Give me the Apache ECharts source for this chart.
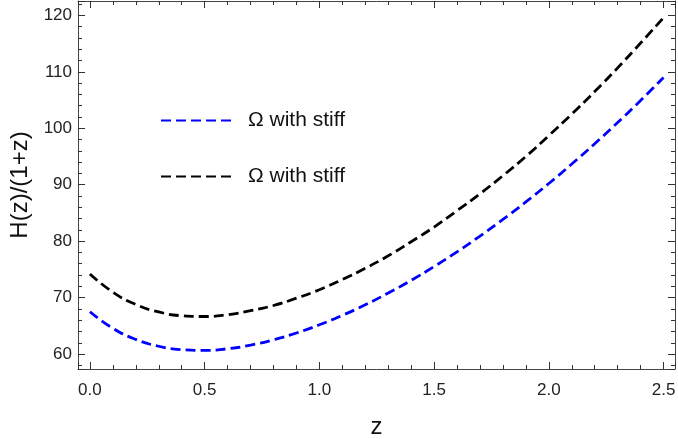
<!DOCTYPE html>
<html>
<head>
<meta charset="utf-8">
<script src="https://cdn.jsdelivr.net/npm/echarts@6/dist/echarts.min.js"></script>
<style>
  html, body { margin: 0; padding: 0; background: #fff; }
  #main { width: 678px; height: 439px; }
</style>
</head>
<body>
<div id="main"></div>
<script>
const chartDom = document.getElementById("main");
const myChart = echarts.init(chartDom);

// values
const zValues = [0.0, 0.1, 0.2, 0.3, 0.4, 0.5, 0.6, 0.7, 0.8, 0.9, 1.0, 1.1, 1.2,
  1.3, 1.4, 1.5, 1.6, 1.7, 1.8, 1.9, 2.0, 2.1, 2.2, 2.3, 2.4, 2.5];
const blueValues = [67.5, 64.57, 62.59, 61.38, 60.77, 60.65, 60.94, 61.58, 62.52,
  63.73, 65.18, 66.85, 68.73, 70.8, 73.06, 75.5, 78.11, 80.89, 83.84, 86.95,
  90.22, 93.66, 97.26, 101.01, 104.92, 108.99];
const blackValues = [74.2, 70.96, 68.79, 67.46, 66.79, 66.65, 66.97, 67.68, 68.6,
  69.9, 71.4, 73.2, 75.2, 77.4, 79.9, 82.5, 85.4, 88.4, 91.6, 95.0, 98.7,
  102.5, 106.5, 110.7, 115.1, 119.6];
const legendLabel = "Ω with stiff";

const font = "Liberation Sans, Arial, sans-serif";

function pairs(ys) {
  return zValues.map((z, i) => [z, ys[i]]);
}

const frameAxis = {
  show: true,
  axisLine: { show: true, onZero: false, lineStyle: { color: "#444", width: 1 } },
  axisTick: { show: true, inside: true, length: 7, lineStyle: { color: "#333", width: 1 } },
  minorTick: { show: true, splitNumber: 5, length: 4, lineStyle: { color: "#333", width: 1 } },
  splitLine: { show: false }
};

const option = {
  animation: false,
  textStyle: { fontFamily: font },
  grid: { left: 78, right: 3, top: 1, bottom: 70, outerBoundsMode: "none", containLabel: false },
  legend: {
    orient: "vertical",
    left: 155,
    top: 105,
    itemWidth: 71,
    itemHeight: 16,
    itemGap: 35,
    data: ["a", "b"],
    itemStyle: { opacity: 0 },
    formatter: () => legendLabel,
    textStyle: { fontSize: 21, color: "#111", fontFamily: font, padding: [0, 0, 0, 11] }
  },
  xAxis: [
    Object.assign({}, frameAxis, {
      type: "value",
      min: -0.052,
      max: 2.55,
      name: "z",
      nameLocation: "middle",
      nameGap: 46,
      nameTextStyle: { fontSize: 24, color: "#111", fontFamily: font },
      axisLabel: {
        fontSize: 17, color: "#222", margin: 13, fontFamily: font,
        showMinLabel: false, showMaxLabel: false,
        formatter: v => v.toFixed(1)
      }
    }),
    Object.assign({}, frameAxis, {
      type: "value",
      position: "top",
      min: -0.052,
      max: 2.55,
      axisLabel: { show: false }
    })
  ],
  yAxis: [
    Object.assign({}, frameAxis, {
      type: "value",
      position: "left",
      min: 57.35,
      max: 122.55,
      name: "H(z)/(1+z)",
      nameLocation: "middle",
      nameGap: 46,
      nameTextStyle: { fontSize: 24, color: "#111", fontFamily: font },
      axisLabel: {
        fontSize: 17, color: "#222", margin: 6, fontFamily: font,
        showMinLabel: false, showMaxLabel: false
      }
    }),
    Object.assign({}, frameAxis, {
      type: "value",
      position: "right",
      min: 57.35,
      max: 122.55,
      axisLabel: { show: false }
    })
  ],
  series: [
    {
      name: "a",
      type: "line",
      data: pairs(blueValues),
      smooth: true,
      symbol: "none",
      color: "#0000ff",
      lineStyle: { color: "#0000ff", width: 2.8, type: [10, 5] }
    },
    {
      name: "b",
      type: "line",
      data: pairs(blackValues),
      smooth: true,
      symbol: "none",
      color: "#000000",
      lineStyle: { color: "#000000", width: 2.8, type: [10, 5] }
    },
    {
      // invisible copy so the top/right frame axes are drawn
      name: "frame",
      type: "line",
      xAxisIndex: 1,
      yAxisIndex: 1,
      data: pairs(blackValues),
      symbol: "none",
      silent: true,
      lineStyle: { opacity: 0 }
    }
  ]
};

option && myChart.setOption(option);
</script>
</body>
</html>
